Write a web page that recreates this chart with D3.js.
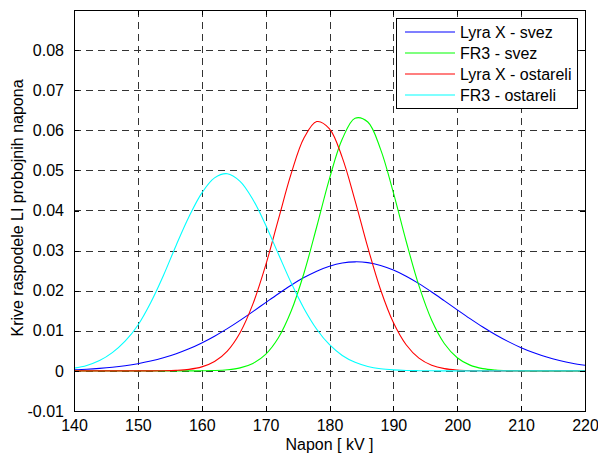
<!DOCTYPE html>
<html>
<head>
<meta charset="utf-8">
<script src="https://cdn.jsdelivr.net/npm/d3@7"></script>
<style>
  html, body { margin: 0; padding: 0; background: #fff; }
  svg { display: block; }
  text { font-family: "Liberation Sans", Arial, Helvetica, sans-serif; fill: #000; }
</style>
</head>
<body>
<svg id="chart" width="598" height="457"></svg>
<script>
// Breakdown voltage (kV) sample points
const voltage = [140,142,144,146,148,150,152,154,156,158,160,162,164,166,168,170,172,174,176,178,180,
                 182,184,186,188,190,192,194,196,198,200,202,204,206,208,210,212,214,216,218,220];

// Distribution curves of lightning-impulse breakdown voltage
const lyraFresh = [0.00029,0.00043,0.00064,0.00092,0.00130,0.00180,0.00245,0.00327,0.00429,0.00552,0.00698,
                   0.00866,0.01054,0.01260,0.01478,0.01703,0.01925,0.02136,0.02327,0.02488,0.02611,
                   0.02690,0.02720,0.02700,0.02630,0.02515,0.02361,0.02176,0.01968,0.01747,0.01523,
                   0.01303,0.01094,0.00902,0.00730,0.00579,0.00452,0.00345,0.00260,0.00191,0.00139];
const fr3Fresh  = [0,0,0,0,0,0,0,0,0,0.00001,0.00003,
                   0.00009,0.00028,0.00076,0.00187,0.00413,0.00826,0.01492,0.02436,0.03595,0.04796,
                   0.05782,0.06301,0.06206,0.05525,0.04446,0.03233,0.02125,0.01263,0.00678,0.00329,
                   0.00144,0.00057,0.00021,0.00007,0.00002,0,0,0,0,0];
const lyraAged  = [0,0,0,0,0,0,0.00001,0.00004,0.00014,0.00039,0.00100,
                   0.00234,0.00496,0.00953,0.01664,0.02633,0.03779,0.04918,0.05807,0.06218,0.06038,
                   0.05319,0.04248,0.03078,0.02023,0.01205,0.00652,0.00319,0.00142,0.00057,0.00021,
                   0.00007,0.00002,0,0,0,0,0,0,0,0];
const fr3Aged   = [0.00069,0.00137,0.00258,0.00455,0.00740,0.01140,0.01700,0.02380,0.03135,0.03843,0.04433,
                   0.04813,0.04917,0.04726,0.04275,0.03639,0.02914,0.02196,0.01558,0.01040,0.00653,
                   0.00386,0.00215,0.00112,0.00055,0.00026,0.00011,0.00005,0.00002,0,0,
                   0,0,0,0,0,0,0,0,0,0];

const seriesNames  = ["Lyra X - svez", "FR3 - svez", "Lyra X - ostareli", "FR3 - ostareli"];
const seriesValues = [lyraFresh, fr3Fresh, lyraAged, fr3Aged];
const seriesColors = ["#0000ff", "#00ff00", "#ff0000", "#00ffff"];

const xTicks = [140,150,160,170,180,190,200,210,220];
const yTicks = [-0.01,0,0.01,0.02,0.03,0.04,0.05,0.06,0.07,0.08];
const yTickLabels = ["-0.01","0","0.01","0.02","0.03","0.04","0.05","0.06","0.07","0.08"];

const xLabel = "Napon [ kV ]";
const yLabel = "Krive raspodele LI probojnih napona";

// Layout
const plot = { left: 74, right: 585, top: 10, bottom: 411 };
const svg = d3.select("#chart");

const x = d3.scaleLinear().domain([140, 220]).range([plot.left, plot.right]);
const y = d3.scaleLinear().domain([-0.01, 0.09]).range([plot.bottom, plot.top]);

// Plot background
svg.append("rect")
  .attr("x", plot.left).attr("y", plot.top)
  .attr("width", plot.right - plot.left).attr("height", plot.bottom - plot.top)
  .attr("fill", "#fff");

// Dashed grid
const grid = svg.append("g").attr("stroke", "#333").attr("stroke-width", 1)
  .attr("stroke-dasharray", "7,5").attr("shape-rendering", "crispEdges");
grid.selectAll("line.gx").data(xTicks.slice(1, -1)).join("line")
  .attr("x1", d => Math.round(x(d)) + 0.5).attr("x2", d => Math.round(x(d)) + 0.5)
  .attr("y1", plot.top).attr("y2", plot.bottom);
grid.selectAll("line.gy").data(yTicks.slice(1)).join("line")
  .attr("y1", d => Math.round(y(d)) + 0.5).attr("y2", d => Math.round(y(d)) + 0.5)
  .attr("x1", plot.left).attr("x2", plot.right);

// Curves
svg.append("clipPath").attr("id", "clip").append("rect")
  .attr("x", plot.left).attr("y", plot.top)
  .attr("width", plot.right - plot.left).attr("height", plot.bottom - plot.top);

const line = d3.line()
  .x((d, i) => x(voltage[i]))
  .y(d => y(d))
  .curve(d3.curveCatmullRom.alpha(0.5));

svg.append("g").attr("clip-path", "url(#clip)")
  .selectAll("path").data(seriesValues).join("path")
  .attr("d", d => line(d))
  .attr("fill", "none")
  .attr("stroke", (d, i) => seriesColors[i])
  .attr("stroke-width", 1.1);

// Axes with inward ticks on all four sides
const tickLen = 5;
const axisBottom = d3.axisBottom(x).tickValues(xTicks).tickSize(-tickLen).tickPadding(9).tickFormat(d3.format("d"));
const axisTop = d3.axisTop(x).tickValues(xTicks).tickSize(-tickLen).tickFormat("");
const axisLeft = d3.axisLeft(y).tickValues(yTicks).tickSize(-tickLen).tickPadding(10)
  .tickFormat((d, i) => yTickLabels[i]);
const axisRight = d3.axisRight(y).tickValues(yTicks).tickSize(-tickLen).tickFormat("");

function styleAxis(g) {
  g.select(".domain").remove();
  g.selectAll("line").attr("stroke", "#000").attr("shape-rendering", "crispEdges");
  g.selectAll("text").style("font-size", "16px").attr("fill", "#000");
}

svg.append("g").attr("transform", `translate(0,${plot.bottom})`).call(axisBottom).call(styleAxis);
svg.append("g").attr("transform", `translate(0,${plot.top})`).call(axisTop).call(styleAxis);
svg.append("g").attr("transform", `translate(${plot.left},0)`).call(axisLeft).call(styleAxis);
svg.append("g").attr("transform", `translate(${plot.right},0)`).call(axisRight).call(styleAxis);

// Frame
svg.append("rect")
  .attr("x", plot.left + 0.5).attr("y", plot.top + 0.5)
  .attr("width", plot.right - plot.left).attr("height", plot.bottom - plot.top)
  .attr("fill", "none").attr("stroke", "#000").attr("stroke-width", 1.2)
  .attr("shape-rendering", "crispEdges");

// Axis titles
svg.append("text")
  .attr("x", (plot.left + plot.right) / 2).attr("y", 450)
  .attr("text-anchor", "middle").style("font-size", "16px")
  .text(xLabel);

svg.append("text")
  .attr("transform", "translate(23,208) rotate(-90)")
  .attr("text-anchor", "middle").style("font-size", "16px")
  .text(yLabel);

// Legend
const legend = svg.append("g");
legend.append("rect")
  .attr("x", 396.5).attr("y", 18.5).attr("width", 181).attr("height", 90)
  .attr("fill", "#fff").attr("stroke", "#000").attr("stroke-width", 1);

const rowY = [32, 53, 74, 95];
const items = legend.selectAll("g.item").data(seriesNames).join("g")
  .attr("transform", (d, i) => `translate(0,${rowY[i]})`);
items.append("line")
  .attr("x1", 405).attr("x2", 455).attr("y1", 0).attr("y2", 0)
  .attr("stroke", (d, i) => seriesColors[i]).attr("stroke-width", 1.2);
items.append("text")
  .attr("x", 460).attr("y", 0).attr("dy", "0.35em")
  .style("font-size", "16px")
  .text(d => d);
</script>
</body>
</html>
